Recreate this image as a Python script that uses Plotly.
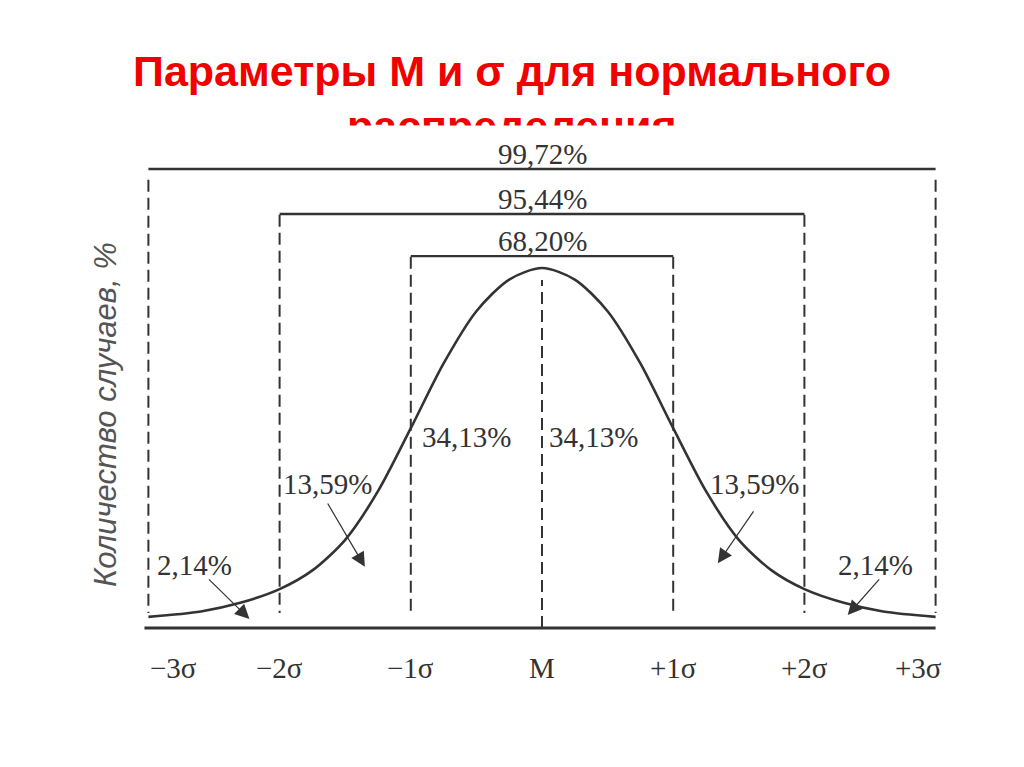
import plotly.graph_objects as go

# ---------------- data ----------------
# normal curve, x in sigma units, height relative to the peak (=100)
curve_sigma = [-3.0, -2.6, -2.3, -2.0, -1.75, -1.5, -1.25, -1.0, -0.75, -0.5, -0.25, 0.0,
               0.25, 0.5, 0.75, 1.0, 1.25, 1.5, 1.75, 2.0, 2.3, 2.6, 3.0]
curve_height = [3.1, 4.6, 7.0, 10.8, 16.0, 24.5, 38.0, 55.5, 73.5, 88.0, 96.8, 100.0,
                96.8, 88.0, 73.5, 55.5, 38.0, 24.5, 16.0, 10.8, 7.0, 4.6, 3.1]

tick_sigma = [-3, -2, -1, 0, 1, 2, 3]
tick_labels = ["−3σ", "−2σ", "−1σ", "M", "+1σ", "+2σ", "+3σ"]

interval_k = [1, 2, 3]
interval_labels = ["68,20%", "95,44%", "99,72%"]
interval_height = [103.3, 115.0, 127.5]

band_labels = ["34,13%", "13,59%", "2,14%"]   # bands 0-1σ, 1-2σ, 2-3σ (mirrored)

# arrows: (tail_sigma, tail_h, tip_sigma, tip_h)
arrow_tail_sigma = [-1.64, -2.55, 1.62, 2.58]
arrow_tail_h = [35.0, 13.9, 32.8, 13.9]
arrow_tip_sigma = [-1.35, -2.23, 1.34, 2.33]
arrow_tip_h = [17.0, 2.5, 18.0, 3.6]

title_line1 = "Параметры М и σ для нормального"
title_line2 = "распределения"
y_title = "Количество случаев, %"

# ---------------- styling ----------------
INK = "#333333"
SERIF = "Liberation Serif, Times New Roman, serif"
SANS = "Liberation Sans, Arial, sans-serif"
W, H = 1024, 767
PX_PER_SIGMA = 131.2
X0_PX = 542.0
BASE_PX = 628.0
PX_PER_H = 3.6
LBL = 29

x_range = [(0 - X0_PX) / PX_PER_SIGMA, (W - X0_PX) / PX_PER_SIGMA]
y_range = [(BASE_PX - H) / PX_PER_H, BASE_PX / PX_PER_H]

fig = go.Figure()

# curve
fig.add_trace(go.Scatter(
    x=curve_sigma, y=curve_height, mode="lines",
    line=dict(color=INK, width=2.6, shape="spline", smoothing=0.8),
    hoverinfo="skip", showlegend=False))

shapes = []
dash = "12px,6px"
# baseline axis
shapes.append(dict(type="line", xref="x", yref="y",
                   x0=tick_sigma[0] - 0.03, x1=tick_sigma[-1], y0=0, y1=0,
                   line=dict(color=INK, width=3)))
# central dashed line
shapes.append(dict(type="line", xref="x", yref="y",
                   x0=0, x1=0, y0=0, y1=96.7,
                   line=dict(color=INK, width=2, dash=dash)))
# interval brackets and dashed verticals
for k, h in zip(interval_k, interval_height):
    shapes.append(dict(type="line", xref="x", yref="y",
                       x0=-k, x1=k, y0=h, y1=h,
                       line=dict(color=INK, width=2.4)))
    gap = 0.2 if k < 3 else 3.0
    for s in (-k, k):
        shapes.append(dict(type="line", xref="x", yref="y",
                           x0=s, x1=s, y0=h - gap, y1=4.2,
                           line=dict(color=INK, width=2, dash=dash)))

annotations = []
# title (second line partly hidden, as in the original slide)
annotations.append(dict(xref="paper", yref="paper", x=0.5, y=1 - 71 / H,
                        text=f"<b>{title_line1}</b>", showarrow=False,
                        xanchor="center", yanchor="middle",
                        font=dict(family=SANS, size=43, color="#f20000")))
annotations.append(dict(xref="paper", yref="paper", x=0.5, y=1 - 126 / H,
                        text=f"<b>{title_line2}</b>", showarrow=False,
                        xanchor="center", yanchor="middle",
                        font=dict(family=SANS, size=43, color="#f20000")))
annotations.append(dict(xref="paper", yref="paper", x=0.5, y=1 - 141 / H,
                        text=" ", showarrow=False, width=440, height=30,
                        bgcolor="white", borderpad=0,
                        xanchor="center", yanchor="middle",
                        font=dict(size=8)))

# interval labels
for k, h, lab in zip(interval_k, interval_height, interval_labels):
    annotations.append(dict(xref="x", yref="y", x=0, y=h, text=lab,
                            showarrow=False, xanchor="center", yanchor="bottom",
                            yshift=-3,
                            font=dict(family=SERIF, size=LBL, color=INK)))

# tick labels
tick_shift = {-3: 25, 3: -17}
for s, lab in zip(tick_sigma, tick_labels):
    annotations.append(dict(xref="x", yref="y", x=s, y=-11, text=lab,
                            showarrow=False, xanchor="center", yanchor="middle",
                            xshift=tick_shift.get(s, 0),
                            font=dict(family=SERIF, size=LBL, color=INK)))

# band labels
band_pos = [
    (-1, 53, "left", 9, band_labels[0]),
    (0, 53, "left", 5, band_labels[0]),
    (-2, 40, "left", 1, band_labels[1]),
    (2, 40, "right", -3, band_labels[1]),
    (-3, 17.5, "left", 7, band_labels[2]),
    (3, 17.5, "right", -21, band_labels[2]),
]
for s, h, anc, sh, lab in band_pos:
    annotations.append(dict(xref="x", yref="y", x=s, y=h, text=lab,
                            showarrow=False, xanchor=anc, yanchor="middle",
                            xshift=sh,
                            font=dict(family=SERIF, size=LBL, color=INK)))

# arrows
for ts, th, ps, ph in zip(arrow_tail_sigma, arrow_tail_h, arrow_tip_sigma, arrow_tip_h):
    annotations.append(dict(xref="x", yref="y", axref="x", ayref="y",
                            x=ps, y=ph, ax=ts, ay=th, text="",
                            showarrow=True, arrowhead=2, arrowsize=2.4,
                            arrowwidth=1.2, arrowcolor=INK))

# y-axis title
annotations.append(dict(xref="paper", yref="paper", x=105 / W, y=1 - 415 / H,
                        text=f"<i>{y_title}</i>", textangle=-90, showarrow=False,
                        xanchor="center", yanchor="middle",
                        font=dict(family=SANS, size=31, color="#555555")))

fig.update_layout(
    width=W, height=H,
    margin=dict(l=0, r=0, t=0, b=0),
    paper_bgcolor="white", plot_bgcolor="white",
    xaxis=dict(range=x_range, visible=False, fixedrange=True),
    yaxis=dict(range=y_range, visible=False, fixedrange=True),
    shapes=shapes, annotations=annotations,
    showlegend=False,
)

fig.write_html("out.html", include_plotlyjs=True,
               config={"displayModeBar": False},
               post_script="document.body.style.margin='0';")
